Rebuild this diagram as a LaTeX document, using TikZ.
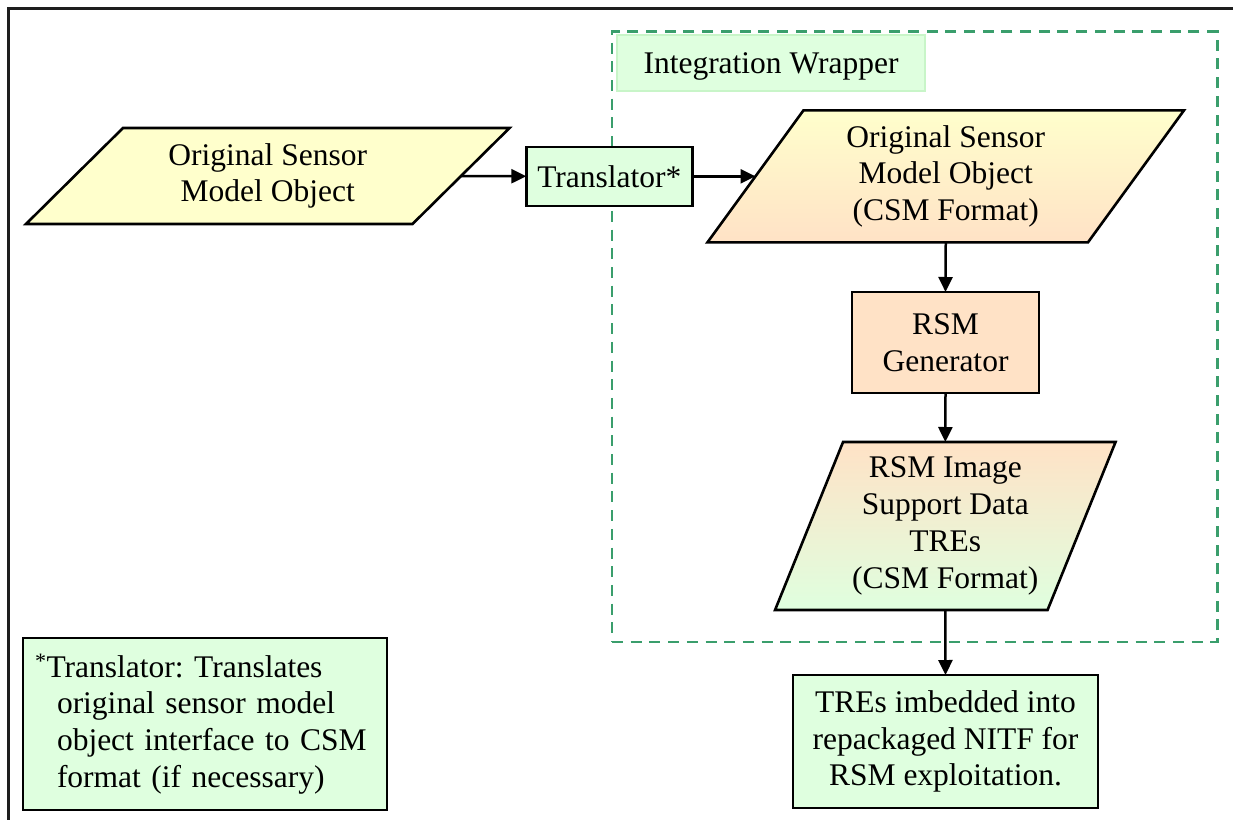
\documentclass[tikz,border=0pt]{standalone}
\usepackage{fontspec}
\setmainfont{Liberation Serif}
\usetikzlibrary{arrows.meta,backgrounds}

\definecolor{paleyellow}{HTML}{FFFFCC}
\definecolor{peach}{HTML}{FFE2C6}
\definecolor{palegreen}{HTML}{DFFFDF}
\definecolor{wrapgreen}{HTML}{3A9E6C}
\definecolor{labelgreen}{HTML}{C8F5C8}
\definecolor{framegray}{HTML}{1E1E1E}

% Parallelogram drawn behind a text node: #1 node, #2 half the slant, #3 style
\newcommand\slantbox[3]{%
  \begin{scope}[on background layer]
    \path[#3] ([xshift=#2]#1.north west) -- ([xshift=#2]#1.north east)
      -- ([xshift=-#2]#1.south east) -- ([xshift=-#2]#1.south west) -- cycle;
  \end{scope}}

\tikzset{
  txt/.style={align=center, font=\fontsize{31.5}{36.8}\selectfont\frenchspacing,
    inner sep=0pt, outer sep=0pt},
  procbox/.style={txt, draw=black, line width=2.6pt},
  shapeline/.style={draw=black, line width=2.6pt, line join=miter},
  arr/.style={-{Triangle[length=15pt,width=14pt]}, line width=2.5pt},
}

\begin{document}
\begin{tikzpicture}[x=1pt,y=-1pt]
\useasboundingbox (0,0) rectangle (1233,819);

% outer frame (left and top edges)
\draw[line width=2.8pt, draw=framegray] (8.5,840) |- (1250,8.5);

% integration wrapper frame
\begin{scope}[on background layer]
  \node[draw=wrapgreen, line width=2.4pt, dash pattern=on 11pt off 7.7pt,
        inner sep=0pt, minimum width=605.5pt, minimum height=610.5pt]
        (wrap) at (914.75,336.75) {};
\end{scope}
\node[txt, fill=palegreen, draw=labelgreen, line width=1.5pt,
      minimum width=308pt, minimum height=56pt, text height=24pt, text depth=4pt]
      (wraplabel) at (771,63) {Integration Wrapper};

% data objects and processes
\node[txt, minimum width=386.5pt, minimum height=96pt] (osm) at (267.75,176)
  {Original Sensor\\Model Object};
\slantbox{osm}{48.5pt}{shapeline, fill=paleyellow}

\node[procbox, fill=palegreen, minimum width=166pt, minimum height=59pt]
  (trans) at (609.3,176.3) {Translator*};

\node[txt, minimum width=380.5pt, minimum height=132pt] (csm) at (945.75,176.3)
  {Original Sensor\\Model Object\\(CSM Format)};
\slantbox{csm}{48pt}{shapeline, top color=paleyellow, bottom color=peach}

\node[procbox, fill=peach, minimum width=187pt, minimum height=101pt]
  (gen) at (945.5,342.5) {RSM\\Generator};

\node[txt, minimum width=272.5pt, minimum height=168pt] (isd) at (945.3,526)
  {RSM Image\\Support Data\\TREs\\(CSM Format)};
\slantbox{isd}{34pt}{shapeline, top color=peach, bottom color=palegreen}

\node[procbox, fill=palegreen, minimum width=305pt, minimum height=133pt]
  (nitf) at (945.5,741.5) {TREs imbedded into\\repackaged NITF for\\RSM exploitation.};

\node[procbox, fill=palegreen, minimum width=364pt, minimum height=172pt,
      align=left, text width=340pt, inner xsep=12pt]
  (note) at (205,724)
  {\textsuperscript{*}Translator: Translates\\
   \hspace*{22pt}original sensor model\\
   \hspace*{22pt}object interface to CSM\\
   \hspace*{22pt}format (if necessary)};

% connectors
\draw[arr] (osm.east) -- (trans.west);
\draw[arr] (trans.east) -- (csm.west);
\draw[arr] (csm.south) -- (gen.north);
\draw[arr] (gen.south) -- (isd.north);
\draw[arr] (isd.south) -- (nitf.north);
\end{tikzpicture}
\end{document}
